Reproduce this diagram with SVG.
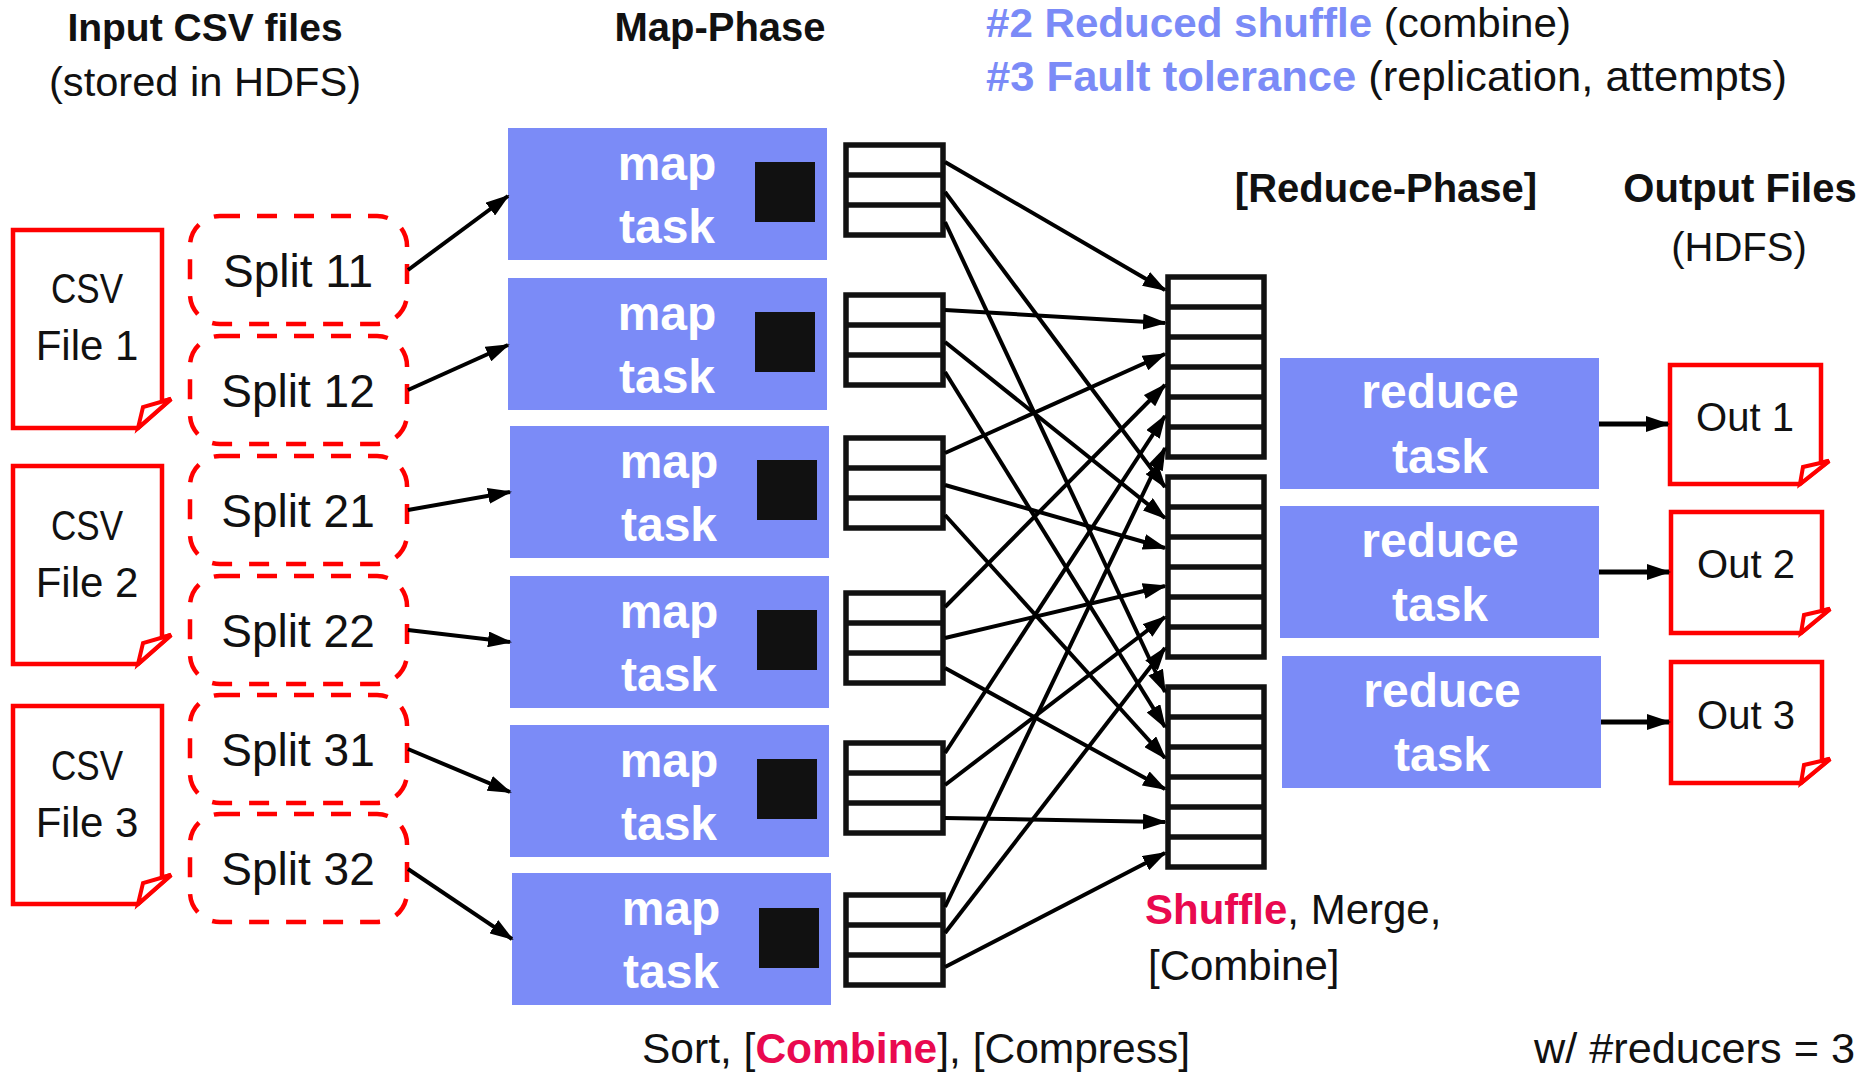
<svg xmlns="http://www.w3.org/2000/svg" width="1866" height="1075" viewBox="0 0 1866 1075">
<style>
text { font-family: "Liberation Sans", Arial, sans-serif; fill: #111; }
.b { font-weight: bold; }
.c { text-anchor: middle; }
.task { fill: #7B8BF7; }
.wt { fill: #fff; font-weight: bold; font-size: 48px; text-anchor: middle; }
.sq { fill: #111; }
.buf { fill: #fff; stroke: #111; stroke-width: 5.5; }
.div { stroke: #111; stroke-width: 5.5; }
.doc { fill: #fff; stroke: #FF0000; stroke-width: 4.5; stroke-linejoin: miter; }
.fold { fill: #fff; stroke: #FF0000; stroke-width: 4; stroke-linejoin: miter; }
.split { fill: #fff; stroke: #FF0000; stroke-width: 4.5; stroke-dasharray: 20 17; }
.con { stroke: #000; stroke-width: 4; fill: none; marker-end: url(#arr); }
.con2 { stroke: #000; stroke-width: 5; fill: none; marker-end: url(#arr); }
.blue { fill: #7B8BF7; font-weight: bold; }
.red { fill: #E9094F; font-weight: bold; }
</style>
<defs>
<marker id="arr" markerUnits="userSpaceOnUse" markerWidth="24" markerHeight="16" viewBox="0 0 24 16" refX="22" refY="8" orient="auto">
<path d="M0,0 L24,8 L0,16 Z" fill="#000"/>
</marker>
</defs>
<rect width="1866" height="1075" fill="#fff"/>

<!-- headings -->
<g id="headings">
<text x="205" y="41" class="b c" font-size="39">Input CSV files</text>
<text x="205" y="96" class="c" font-size="40" textLength="312" lengthAdjust="spacingAndGlyphs">(stored in HDFS)</text>
<text x="720" y="41" class="b c" font-size="40">Map-Phase</text>
<text x="986" y="37" font-size="40" textLength="585" lengthAdjust="spacingAndGlyphs"><tspan class="blue">#2 Reduced shuffle</tspan> (combine)</text>
<text x="986" y="91" font-size="42" textLength="801" lengthAdjust="spacingAndGlyphs"><tspan class="blue">#3 Fault tolerance</tspan> (replication, attempts)</text>
<text x="1386" y="202" class="b c" font-size="40">[Reduce-Phase]</text>
<text x="1740" y="202" class="b c" font-size="40">Output Files</text>
<text x="1739" y="261" class="c" font-size="40">(HDFS)</text>
<text x="642" y="1063" font-size="42" textLength="548" lengthAdjust="spacingAndGlyphs">Sort, [<tspan class="red">Combine</tspan>], [Compress]</text>
<text x="1145" y="924" font-size="42"><tspan class="red">Shuffle</tspan>, Merge,</text>
<text x="1148" y="980" font-size="42">[Combine]</text>
<text x="1534" y="1063" font-size="42" textLength="321" lengthAdjust="spacingAndGlyphs">w/ #reducers = 3</text>
</g>

<!-- CSV files -->
<g id="csv1">
<path class="doc" d="M13,230 H162 V402 L171,399 L138,428 H13 Z"/>
<path class="fold" d="M171,399 L143,407 L138,428 Z"/>
<text x="87" y="303" class="c" font-size="42" textLength="72" lengthAdjust="spacingAndGlyphs">CSV</text>
<text x="87" y="360" class="c" font-size="42">File 1</text>
</g>
<g id="csv2">
<path class="doc" d="M13,466 H162 V638 L171,635 L138,664 H13 Z"/>
<path class="fold" d="M171,635 L143,643 L138,664 Z"/>
<text x="87" y="540" class="c" font-size="42" textLength="72" lengthAdjust="spacingAndGlyphs">CSV</text>
<text x="87" y="597" class="c" font-size="42">File 2</text>
</g>
<g id="csv3">
<path class="doc" d="M13,706 H162 V878 L171,875 L138,904 H13 Z"/>
<path class="fold" d="M171,875 L143,883 L138,904 Z"/>
<text x="87" y="780" class="c" font-size="42" textLength="72" lengthAdjust="spacingAndGlyphs">CSV</text>
<text x="87" y="837" class="c" font-size="42">File 3</text>
</g>

<!-- splits -->
<g id="split11"><rect class="split" x="190" y="216" width="217" height="108" rx="30"/><text x="298" y="287" class="c" font-size="46">Split 11</text></g>
<g id="split12"><rect class="split" x="190" y="336" width="217" height="108" rx="30"/><text x="298" y="407" class="c" font-size="46">Split 12</text></g>
<g id="split21"><rect class="split" x="190" y="456" width="217" height="108" rx="30"/><text x="298" y="527" class="c" font-size="46">Split 21</text></g>
<g id="split22"><rect class="split" x="190" y="576" width="217" height="108" rx="30"/><text x="298" y="647" class="c" font-size="46">Split 22</text></g>
<g id="split31"><rect class="split" x="190" y="695" width="217" height="108" rx="30"/><text x="298" y="766" class="c" font-size="46">Split 31</text></g>
<g id="split32"><rect class="split" x="190" y="814" width="217" height="108" rx="30"/><text x="298" y="885" class="c" font-size="46">Split 32</text></g>

<!-- map tasks -->
<g id="map1"><rect class="task" x="508" y="128" width="319" height="132"/><rect class="sq" x="755" y="162" width="60" height="60"/><text class="wt" x="667" y="180">map</text><text class="wt" x="667" y="243">task</text></g>
<g id="map2"><rect class="task" x="508" y="278" width="319" height="132"/><rect class="sq" x="755" y="312" width="60" height="60"/><text class="wt" x="667" y="330">map</text><text class="wt" x="667" y="393">task</text></g>
<g id="map3"><rect class="task" x="510" y="426" width="319" height="132"/><rect class="sq" x="757" y="460" width="60" height="60"/><text class="wt" x="669" y="478">map</text><text class="wt" x="669" y="541">task</text></g>
<g id="map4"><rect class="task" x="510" y="576" width="319" height="132"/><rect class="sq" x="757" y="610" width="60" height="60"/><text class="wt" x="669" y="628">map</text><text class="wt" x="669" y="691">task</text></g>
<g id="map5"><rect class="task" x="510" y="725" width="319" height="132"/><rect class="sq" x="757" y="759" width="60" height="60"/><text class="wt" x="669" y="777">map</text><text class="wt" x="669" y="840">task</text></g>
<g id="map6"><rect class="task" x="512" y="873" width="319" height="132"/><rect class="sq" x="759" y="908" width="60" height="60"/><text class="wt" x="671" y="925">map</text><text class="wt" x="671" y="988">task</text></g>

<!-- map output buffers -->
<g id="buf1"><rect class="buf" x="846" y="145" width="97" height="90"/><path class="div" d="M846,175 H943 M846,205 H943"/></g>
<g id="buf2"><rect class="buf" x="846" y="295" width="97" height="90"/><path class="div" d="M846,325 H943 M846,355 H943"/></g>
<g id="buf3"><rect class="buf" x="846" y="438" width="97" height="90"/><path class="div" d="M846,468 H943 M846,498 H943"/></g>
<g id="buf4"><rect class="buf" x="846" y="593" width="97" height="90"/><path class="div" d="M846,623 H943 M846,653 H943"/></g>
<g id="buf5"><rect class="buf" x="846" y="743" width="97" height="90"/><path class="div" d="M846,773 H943 M846,803 H943"/></g>
<g id="buf6"><rect class="buf" x="846" y="895" width="97" height="90"/><path class="div" d="M846,925 H943 M846,955 H943"/></g>

<!-- reducer input buffers -->
<g id="rbuf1"><rect class="buf" x="1168" y="277" width="96" height="180"/><path class="div" d="M1168,307 H1264 M1168,337 H1264 M1168,367 H1264 M1168,397 H1264 M1168,427 H1264"/></g>
<g id="rbuf2"><rect class="buf" x="1168" y="477" width="96" height="180"/><path class="div" d="M1168,507 H1264 M1168,537 H1264 M1168,567 H1264 M1168,597 H1264 M1168,627 H1264"/></g>
<g id="rbuf3"><rect class="buf" x="1168" y="687" width="96" height="180"/><path class="div" d="M1168,717 H1264 M1168,747 H1264 M1168,777 H1264 M1168,807 H1264 M1168,837 H1264"/></g>

<!-- reduce tasks -->
<g id="reduce1"><rect class="task" x="1280" y="358" width="319" height="131"/><text class="wt" x="1440" y="408">reduce</text><text class="wt" x="1440" y="473">task</text></g>
<g id="reduce2"><rect class="task" x="1280" y="506" width="319" height="132"/><text class="wt" x="1440" y="557">reduce</text><text class="wt" x="1440" y="621">task</text></g>
<g id="reduce3"><rect class="task" x="1282" y="656" width="319" height="132"/><text class="wt" x="1442" y="707">reduce</text><text class="wt" x="1442" y="771">task</text></g>

<!-- output files -->
<g id="out1">
<path class="doc" d="M1670,365 H1821 V463 L1829,461 L1800,484 H1670 Z"/>
<path class="fold" d="M1829,461 L1803,467 L1800,484 Z"/>
<text x="1745" y="431" class="c" font-size="40">Out 1</text>
</g>
<g id="out2">
<path class="doc" d="M1671,512 H1822 V611 L1830,609 L1801,633 H1671 Z"/>
<path class="fold" d="M1830,609 L1804,615 L1801,633 Z"/>
<text x="1746" y="578" class="c" font-size="40">Out 2</text>
</g>
<g id="out3">
<path class="doc" d="M1671,662 H1822 V761 L1830,759 L1801,783 H1671 Z"/>
<path class="fold" d="M1830,759 L1804,765 L1801,783 Z"/>
<text x="1746" y="729" class="c" font-size="40">Out 3</text>
</g>

<!-- connectors -->
<g id="connectors">
<line class="con" x1="408" y1="270" x2="508" y2="196"/>
<line class="con" x1="408" y1="390" x2="508" y2="345"/>
<line class="con" x1="408" y1="510" x2="510" y2="492"/>
<line class="con" x1="408" y1="630" x2="510" y2="642"/>
<line class="con" x1="408" y1="749" x2="510" y2="792"/>
<line class="con" x1="408" y1="869" x2="512" y2="939"/>

<line class="con" x1="945" y1="162" x2="1165" y2="290"/>
<line class="con" x1="945" y1="192" x2="1165" y2="487"/>
<line class="con" x1="945" y1="222" x2="1165" y2="692"/>
<line class="con" x1="945" y1="310" x2="1165" y2="323"/>
<line class="con" x1="945" y1="342" x2="1165" y2="518"/>
<line class="con" x1="945" y1="372" x2="1165" y2="727"/>
<line class="con" x1="945" y1="453" x2="1165" y2="354"/>
<line class="con" x1="945" y1="485" x2="1165" y2="548"/>
<line class="con" x1="945" y1="515" x2="1165" y2="758"/>
<line class="con" x1="945" y1="607" x2="1165" y2="385"/>
<line class="con" x1="945" y1="638" x2="1165" y2="586"/>
<line class="con" x1="945" y1="668" x2="1165" y2="789"/>
<line class="con" x1="945" y1="753" x2="1165" y2="416"/>
<line class="con" x1="945" y1="785" x2="1165" y2="617"/>
<line class="con" x1="945" y1="818" x2="1165" y2="822"/>
<line class="con" x1="945" y1="907" x2="1165" y2="448"/>
<line class="con" x1="945" y1="933" x2="1165" y2="648"/>
<line class="con" x1="945" y1="967" x2="1165" y2="853"/>

<line class="con2" x1="1599" y1="424" x2="1668" y2="424"/>
<line class="con2" x1="1599" y1="572" x2="1669" y2="572"/>
<line class="con2" x1="1601" y1="722" x2="1669" y2="722"/>
</g>
</svg>
